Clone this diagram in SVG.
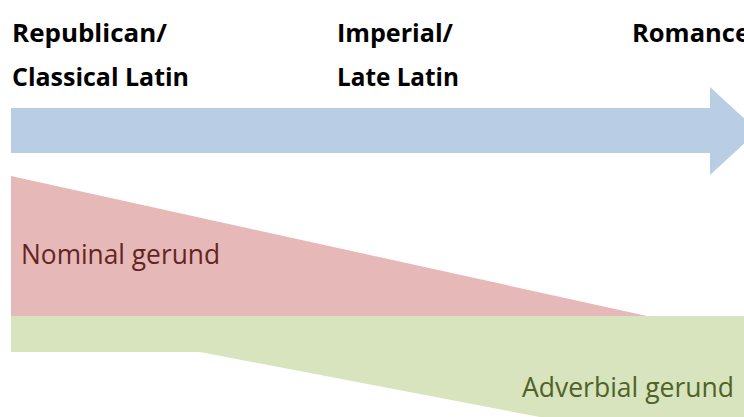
<svg xmlns="http://www.w3.org/2000/svg" width="744" height="417" viewBox="0 0 744 417">
<style>
.hdr{font-family:"Open Sans","Liberation Sans",sans-serif;font-weight:bold;font-size:25px;fill:#000}
.lbl{font-family:"Open Sans","Liberation Sans",sans-serif;font-size:28px}
</style>
<rect width="744" height="417" fill="#fff"/>
<g id="timeline-arrow">
<polygon points="11,108 710,108 710,87 758,131 710,175 710,153 11,153" fill="#b9cde5"/>
</g>
<g id="nominal-gerund">
<polygon points="11,176 647,316 11,316" fill="#e6b9b8"/>
<text class="lbl" x="21" y="264" fill="#632523" textLength="199" lengthAdjust="spacingAndGlyphs">Nominal gerund</text>
</g>
<g id="adverbial-gerund">
<polygon points="11,316 744,316 744,456 200,352 11,352" fill="#d7e4bd"/>
<text class="lbl" x="522" y="397" fill="#4f6228" textLength="212" lengthAdjust="spacingAndGlyphs">Adverbial gerund</text>
</g>
<g id="period-republican">
<text class="hdr" x="12" y="42" textLength="155" lengthAdjust="spacingAndGlyphs">Republican/</text>
<text class="hdr" x="12" y="86" textLength="177" lengthAdjust="spacingAndGlyphs">Classical Latin</text>
</g>
<g id="period-imperial">
<text class="hdr" x="337" y="42" textLength="116" lengthAdjust="spacingAndGlyphs">Imperial/</text>
<text class="hdr" x="337" y="86" textLength="122" lengthAdjust="spacingAndGlyphs">Late Latin</text>
</g>
<g id="period-romance">
<text class="hdr" x="632" y="42" textLength="118" lengthAdjust="spacingAndGlyphs">Romance</text>
</g>
</svg>
